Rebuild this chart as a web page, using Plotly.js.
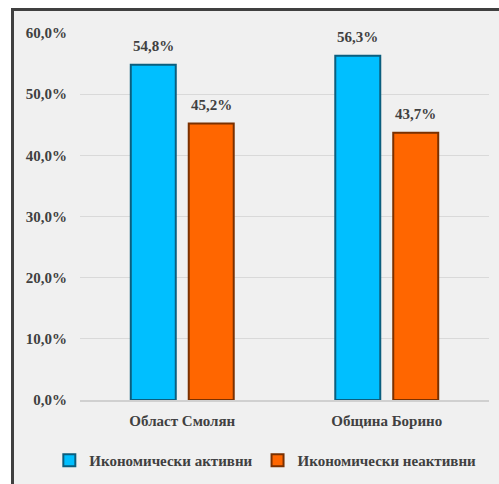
<!DOCTYPE html>
<html>
<head>
<meta charset="utf-8">
<script src="https://cdn.plot.ly/plotly-3.0.1.min.js"></script>
<style>
  html, body { margin:0; padding:0; background:#ffffff; overflow:hidden; width:499px; height:484px; }
  #frame { position:absolute; left:11px; top:8px; border-top:3px solid #404040; border-left:3px solid #404040; width:500px; height:490px; }
  #chart { position:absolute; left:0; top:0; width:490px; height:480px; }
</style>
</head>
<body>
<div id="frame"><div id="chart"></div></div>
<script>
const categories = ["Област Смолян", "Община Борино"];
const seriesNames = ["Икономически активни", "Икономически неактивни"];
const activeValues = [0.548, 0.563];
const inactiveValues = [0.452, 0.437];
const yTickValues = [0, 0.1, 0.2, 0.3, 0.4, 0.5, 0.6];

const serif = "Liberation Serif, DejaVu Serif";
const textColor = "#404040";

const traces = [
  {
    type: "bar", name: seriesNames[0], x: categories, y: activeValues,
    marker: { color: "#00BFFF", line: { color: "#0B5E7E", width: 2 } },
    hoverinfo: "none"
  },
  {
    type: "bar", name: seriesNames[1], x: categories, y: inactiveValues,
    marker: { color: "#FF6600", line: { color: "#7A3000", width: 2 } },
    hoverinfo: "none"
  }
];

const fmt = v => (v * 100).toFixed(1).replace(".", ",") + "%";
const annotations = [];
[activeValues, inactiveValues].forEach((vals, si) => {
  vals.forEach((v, ci) => {
    annotations.push({
      x: categories[ci], y: v, xref: "x", yref: "y",
      xshift: si === 0 ? -29 : 29, yshift: 9,
      yanchor: "bottom", showarrow: false, text: fmt(v),
      font: { family: serif, size: 15, color: textColor, weight: "bold" }
    });
  });
});

const layout = {
  width: 490, height: 480,
  paper_bgcolor: "#f0f0f0", plot_bgcolor: "#f0f0f0",
  separators: ", ",
  margin: { l: 66, r: 15, t: 22, b: 91, autoexpand: false },
  barmode: "group", bargap: 0.433, bargroupgap: 0.224,
  font: { family: serif, color: textColor, size: 14, weight: "bold" },
  annotations: annotations,
  xaxis: {
    showgrid: false, showline: true, linecolor: "#d0d0d0", linewidth: 2,
    ticks: "", tickfont: { family: serif, size: 15, color: textColor, weight: "bold" },
    ticklabelstandoff: 6
  },
  yaxis: {
    range: [0, 0.6], tickvals: yTickValues, tickformat: ".1%",
    showgrid: true, gridcolor: "#d9d9d9", gridwidth: 1,
    zeroline: false, showline: false, ticks: "",
    tickfont: { family: serif, size: 15, color: textColor, weight: "bold" },
    ticklabelstandoff: 12
  },
  legend: {
    orientation: "h", x: -0.075, xanchor: "left",
    y: -0.12, yanchor: "top",
    font: { family: serif, size: 15, color: textColor, weight: "bold" },
    itemwidth: 30, traceorder: "normal", bgcolor: "rgba(0,0,0,0)"
  },
  showlegend: true
};

Plotly.newPlot("chart", traces, layout, { displayModeBar: false, staticPlot: true });
</script>
</body>
</html>
